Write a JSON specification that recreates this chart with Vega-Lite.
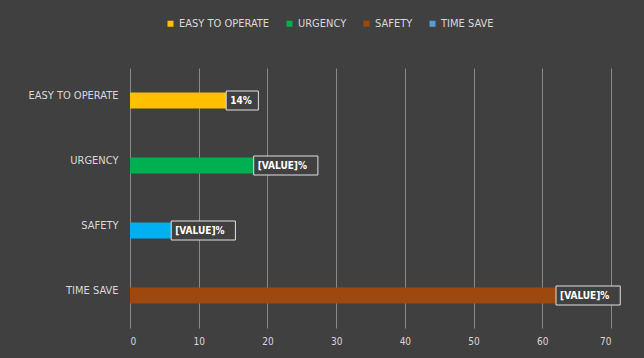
{
  "$schema": "https://vega.github.io/schema/vega-lite/v6.json",
  "autosize": "none",
  "width": 481,
  "height": 260,
  "padding": {"left": 130, "top": 68, "right": 33, "bottom": 30},
  "background": "#404040",
  "config": {
    "view": {"stroke": null},
    "font": "Liberation Sans Narrow, DejaVu Sans Condensed, sans-serif",
    "axis": {"labelColor": "#d9d9d9", "labelFontSize": 10, "domain": false, "ticks": false, "title": null}
  },
  "datasets": {
    "bars": [
      {"category": "EASY TO OPERATE", "value": 14, "label": "14%"},
      {"category": "URGENCY", "value": 18, "label": "[VALUE]%"},
      {"category": "SAFETY", "value": 6, "label": "[VALUE]%"},
      {"category": "TIME SAVE", "value": 62, "label": "[VALUE]%"}
    ],
    "legend": [
      {"series": "EASY TO OPERATE"},
      {"series": "URGENCY"},
      {"series": "SAFETY"},
      {"series": "TIME SAVE"}
    ]
  },
  "layer": [
    {
      "data": {"name": "bars"},
      "mark": {"type": "bar", "size": 16},
      "encoding": {
        "y": {"field": "category", "type": "nominal", "sort": ["EASY TO OPERATE", "URGENCY", "SAFETY", "TIME SAVE"],
              "axis": {"grid": false, "labelPadding": 12, "labelFontSize": 11, "labelBaseline": "bottom"}},
        "x": {"field": "value", "type": "quantitative", "scale": {"domain": [0, 70], "nice": false},
              "axis": {"values": [0, 10, 20, 30, 40, 50, 60, 70], "grid": true, "gridColor": "#8a8a8a", "gridWidth": 1, "labelPadding": 8}},
        "color": {"field": "category", "type": "nominal",
                  "scale": {"domain": ["EASY TO OPERATE", "URGENCY", "SAFETY", "TIME SAVE"], "range": ["#FFC000", "#00B050", "#00B0F0", "#9E480E"]},
                  "legend": null}
      }
    },
    {
      "data": {"name": "bars"},
      "mark": {"type": "bar", "size": 19, "fill": "#404040", "stroke": "#e0e0e0", "strokeWidth": 1,
               "x2Offset": {"expr": "datum.label.length * 6.4 + 13"}},
      "encoding": {
        "y": {"field": "category", "type": "nominal", "sort": ["EASY TO OPERATE", "URGENCY", "SAFETY", "TIME SAVE"]},
        "x": {"field": "value", "type": "quantitative"},
        "x2": {"field": "value"}
      }
    },
    {
      "data": {"name": "bars"},
      "mark": {"type": "text", "align": "left", "dx": 4, "fontSize": 10, "fontWeight": "bold", "color": "#ffffff"},
      "encoding": {
        "y": {"field": "category", "type": "nominal", "sort": ["EASY TO OPERATE", "URGENCY", "SAFETY", "TIME SAVE"]},
        "x": {"field": "value", "type": "quantitative"},
        "text": {"field": "label"}
      }
    },
    {
      "data": {"name": "legend"},
      "mark": {"type": "bar"},
      "encoding": {
        "x": {"datum": 0},
        "x2": {"datum": 0},
        "color": {"field": "series", "type": "nominal",
                  "scale": {"domain": ["EASY TO OPERATE", "URGENCY", "SAFETY", "TIME SAVE"], "range": ["#FFC000", "#00B050", "#9E480E", "#5B9BD5"]},
                  "legend": {"title": null, "orient": "none", "direction": "horizontal", "legendX": 35, "legendY": -50,
                             "symbolType": "square", "symbolSize": 36, "labelFontSize": 11, "labelColor": "#d9d9d9",
                             "columnPadding": 14, "labelOffset": 3, "padding": 0}}
      }
    }
  ],
  "resolve": {"scale": {"color": "independent"}, "legend": {"color": "independent"}}
}
